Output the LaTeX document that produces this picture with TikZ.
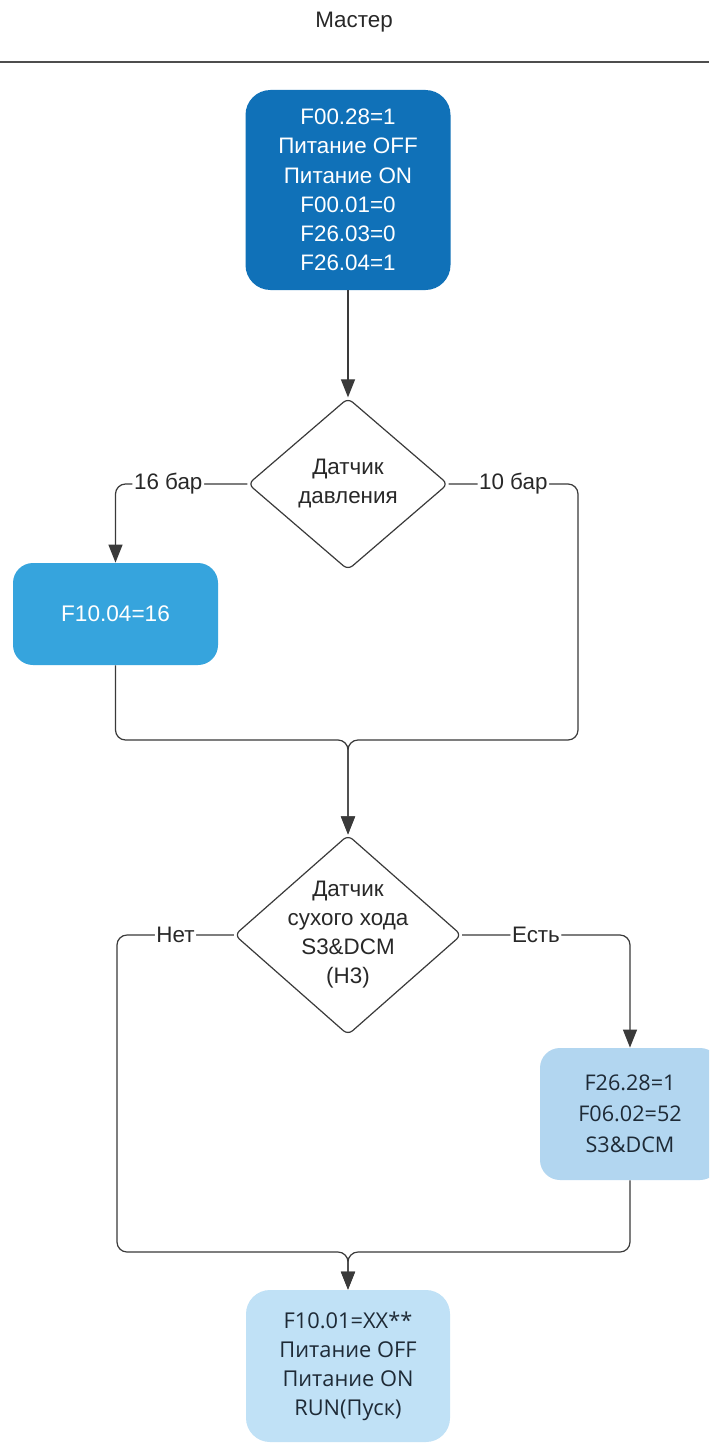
\documentclass[tikz,border=0pt]{standalone}
\usepackage{fontspec}
\setmainfont{Liberation Sans}
\newfontfamily\boxfont{Open Sans}
\usepackage{xcolor}
\usepackage{tikz}
\usetikzlibrary{shapes.geometric, arrows.meta, positioning, calc}
\definecolor{pmdark}{RGB}{16,113,184}
\definecolor{pmmid}{RGB}{54,164,221}
\definecolor{pmlight}{RGB}{178,214,240}
\definecolor{pmpale}{RGB}{192,225,246}
\definecolor{pmline}{RGB}{58,58,58}
\definecolor{pmtext}{RGB}{40,40,40}
\definecolor{pmboxtext}{RGB}{30,42,54}
\tikzset{
  darkbox/.style   = {rectangle, rounded corners=12.5pt, fill=pmdark, text=white,
                      align=center, minimum width=102.5pt, minimum height=100pt,
                      font=\fontsize{11.2}{14.6}\selectfont, inner sep=2pt},
  midbox/.style    = {rectangle, rounded corners=10pt, fill=pmmid, text=white,
                      align=center, minimum width=102.5pt, minimum height=51pt,
                      font=\fontsize{11.3}{14.5}\selectfont, inner sep=2pt},
  lightbox/.style  = {rectangle, rounded corners=10pt, fill=pmlight, text=pmboxtext,
                      align=center, minimum width=90pt, minimum height=66pt,
                      font=\boxfont\fontsize{10.8}{15.5}\selectfont, inner sep=2pt},
  palebox/.style   = {rectangle, rounded corners=12pt, fill=pmpale, text=pmboxtext,
                      align=center, minimum width=102pt, minimum height=76pt,
                      font=\boxfont\fontsize{10.9}{14.5}\selectfont, inner sep=2pt},
  decision/.style  = {diamond, draw=pmline, line width=0.6pt, rounded corners=3pt,
                      text=pmtext, align=center, inner sep=-4pt,
                      font=\fontsize{11.2}{14.5}\selectfont},
  flow/.style      = {-{Triangle[length=9pt, width=7pt]}, line width=0.6pt, draw=pmline,
                      rounded corners=5pt},
  flowlab/.style   = {font=\fontsize{11.2}{13}\selectfont, text=pmtext, fill=white, inner sep=0.8pt},
}

\begin{document}
\begin{tikzpicture}[x=0.5pt, y=-0.5pt]
  \clip (0,0) rectangle (709,1445);
  \fill[white] (0,0) rectangle (709,1445);
  % header
  \node[font=\fontsize{11.2}{13}\selectfont, text=pmtext] (title) at (354,22) {Мастер};
  \draw[line width=1.3pt, draw=pmline!90] (0,62) -- (709,62);
  % blocks
  \node[darkbox] (start) at (348,190) {F00.28=1\\Питание OFF\\Питание ON\\F00.01=0\\F26.03=0\\F26.04=1};
  \node[decision, minimum width=100pt, minimum height=86pt] (press) at (348,484) {Датчик\\давления};
  \node[midbox] (p16) at (115.5,614) {F10.04=16};
  \coordinate (j1) at (348,740);
  \coordinate (r1) at (578,740);
  \node[decision, minimum width=113.5pt, minimum height=100pt] (dry) at (348,935) {Датчик\\сухого хода\\S3\&DCM\\(Н3)};
  \node[lightbox] (dcm) at (630,1114) {F26.28=1\\F06.02=52\\S3\&DCM};
  \coordinate (j2) at (348,1252);
  \coordinate (l2) at (117,1252);
  \node[palebox] (run) at (348,1366) {F10.01=XX**\\Питание OFF\\Питание ON\\RUN(Пуск)};
  % connectors
  \draw[flow] (start) -- (press);
  \draw[flow] (press.west) -| node[flowlab, pos=0.3] {16 бар} (p16.north);
  \draw[flow] (press.east) -| node[flowlab, pos=0.25] {10 бар} (r1) -- (j1) -- (dry.north);
  \draw[flow] (p16.south) |- (j1) -- (dry.north);
  \draw[flow] (dry.west) -| node[flowlab, pos=0.25] {Нет} (l2) -- (j2) -- (run.north);
  \draw[flow] (dry.east) -| node[flowlab, pos=0.22] {Есть} (dcm.north);
  \draw[flow] (dcm.south) |- (j2) -- (run.north);
\end{tikzpicture}
\end{document}
